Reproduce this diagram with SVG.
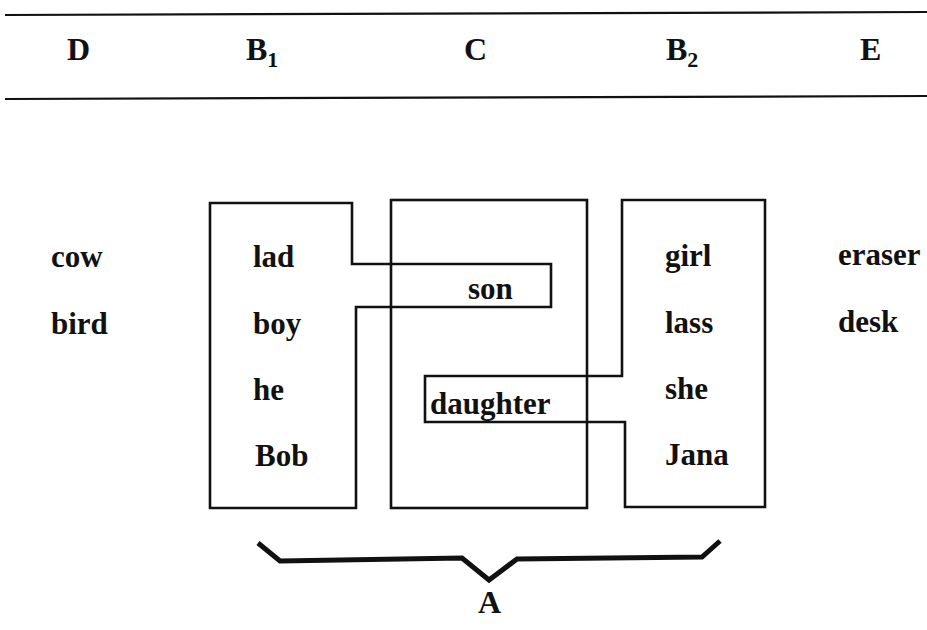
<svg xmlns="http://www.w3.org/2000/svg" width="927" height="630" viewBox="0 0 927 630">
<style>
text{font-family:"Liberation Serif","Times New Roman",serif;font-weight:bold;font-size:31px;fill:#111}
.hd{font-size:32px}
.sub{font-size:22px}
.box{fill:none;stroke:#111;stroke-width:2.6;stroke-linejoin:miter}
.rule{stroke:#111;stroke-width:2.2;fill:none}
.brace{fill:none;stroke:#111;stroke-width:5;stroke-linejoin:miter}
</style>
<rect width="927" height="630" fill="#fff"/>
<g id="header">
<line class="rule" x1="5" y1="15" x2="927" y2="12"/>
<line class="rule" x1="5" y1="99" x2="927" y2="96"/>
<text class="hd" x="67" y="60">D</text>
<text class="hd" x="246" y="60">B<tspan class="sub" dy="7">1</tspan></text>
<text class="hd" x="464" y="60">C</text>
<text class="hd" x="666" y="60">B<tspan class="sub" dy="7">2</tspan></text>
<text class="hd" x="860" y="60">E</text>
</g>
<g id="D">
<text x="51" y="267">cow</text>
<text x="51" y="334">bird</text>
</g>
<g id="B1">
<polygon class="box" points="210,203 352,203 352,264 551,264 551,307 356,307 356,508 210,508"/>
<text x="253" y="267">lad</text>
<text x="253" y="334">boy</text>
<text x="253" y="400">he</text>
<text x="255" y="466">Bob</text>
</g>
<g id="C">
<rect class="box" x="391" y="200" width="196" height="308"/>
<text x="468" y="299">son</text>
<text x="430" y="414">daughter</text>
</g>
<g id="B2">
<polygon class="box" points="622,200 765,200 765,507 625,507 625,422 425,422 425,376 622,376"/>
<text x="665" y="266">girl</text>
<text x="665" y="333">lass</text>
<text x="665" y="399">she</text>
<text x="665" y="465">Jana</text>
</g>
<g id="E">
<text x="838" y="265">eraser</text>
<text x="838" y="332">desk</text>
</g>
<g id="connectors">
<polyline class="brace" points="258,543 280,561 462,558 489,580 517,559 702,557 720,541"/>
</g>
<g id="A">
<text class="hd" x="478" y="613">A</text>
</g>
</svg>
